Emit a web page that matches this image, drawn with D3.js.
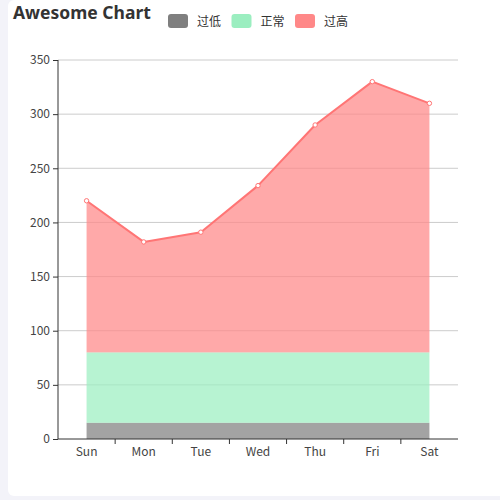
<!DOCTYPE html>
<html>
<head>
<meta charset="utf-8">
<script src="https://d3js.org/d3.v7.min.js"></script>
<style>
  html, body { margin: 0; padding: 0; background: #f3f3f9; }
  #card {
    position: absolute; left: 8px; top: 0; width: 500px; height: 496px;
    background: #fff; border-radius: 6px;
  }
  svg { position: absolute; left: 0; top: 0; }
  text { font-family: "Noto Sans CJK SC", "Noto Sans", sans-serif; }
</style>
</head>
<body>
<div id="card"></div>
<svg id="chart" width="500" height="500"></svg>
<script>
// Chart data
const days = ["Sun", "Mon", "Tue", "Wed", "Thu", "Fri", "Sat"];
const values = [220, 182, 191, 234, 290, 330, 310];
const yTicks = [0, 50, 100, 150, 200, 250, 300, 350];
// visualMap pieces
const pieceNames = ["过低", "正常", "过高"];
const pieceBounds = [[0, 15], [15, 80], [80, 350]];
const pieceColors = ["#7f7f7f", "#9beec0", "#ff8888"];

const margin = { left: 58, right: 42, top: 60, bottom: 61 };
const width = 500, height = 500;

const svg = d3.select("#chart");

const x = d3.scaleBand()
  .domain(days)
  .range([margin.left, width - margin.right]);

const y = d3.scaleLinear()
  .domain([0, 350])
  .range([height - margin.bottom, margin.top]);

const cx = d => x(d) + x.bandwidth() / 2;

// Grid lines
svg.append("g")
  .selectAll("line")
  .data(yTicks.slice(1))
  .enter()
  .append("line")
  .attr("x1", margin.left)
  .attr("x2", width - margin.right)
  .attr("y1", d => y(d))
  .attr("y2", d => y(d))
  .style("stroke", "#ccc")
  .style("stroke-width", "1px");

// Area clipped, coloured by pieces
const area = d3.area()
  .x((d, i) => cx(days[i]))
  .y0(y(0))
  .y1(d => y(d));

svg.append("clipPath")
  .attr("id", "areaClip")
  .append("path")
  .attr("d", area(values));

const areaG = svg.append("g").attr("clip-path", "url(#areaClip)");
areaG.selectAll("rect")
  .data(pieceBounds)
  .enter()
  .append("rect")
  .attr("x", margin.left)
  .attr("width", width - margin.left - margin.right)
  .attr("y", d => y(d[1]))
  .attr("height", d => y(d[0]) - y(d[1]))
  .style("fill", (d, i) => pieceColors[i])
  .style("fill-opacity", 0.72);

// Line
const line = d3.line()
  .x((d, i) => cx(days[i]))
  .y(d => y(d));

svg.append("path")
  .attr("d", line(values))
  .style("fill", "none")
  .style("stroke", "#ff7575")
  .style("stroke-width", "2px")
  .style("stroke-linejoin", "round");

svg.append("g")
  .selectAll("circle")
  .data(values)
  .enter()
  .append("circle")
  .attr("cx", (d, i) => cx(days[i]))
  .attr("cy", d => y(d))
  .attr("r", 2.2)
  .style("fill", "#fff")
  .style("stroke", "#ff7575")
  .style("stroke-width", "1px");

// Axes
const yAxis = d3.axisLeft(y).tickValues(yTicks).tickSize(5).tickPadding(3);
const yG = svg.append("g")
  .attr("transform", `translate(${margin.left},0)`)
  .call(yAxis);
yG.select(".domain").attr("d", `M0,${y(350)}V${y(0)}`).style("stroke", "#333");
yG.selectAll(".tick line").style("stroke", "#333");
yG.selectAll("text").style("font-size", "12px").style("fill", "#444")
  .style("font-family", "'Noto Sans CJK SC', sans-serif");

const xG = svg.append("g")
  .attr("transform", `translate(0,${y(0)})`)
  .call(d3.axisBottom(x).tickSize(0).tickPadding(8));
xG.select(".domain").attr("d", `M${margin.left},0H${width - margin.right}`).style("stroke", "#333");
xG.selectAll("text").style("font-size", "12px").style("fill", "#444")
  .style("font-family", "'Noto Sans CJK SC', sans-serif");

// boundary ticks between categories
xG.append("g")
  .selectAll("line")
  .data(days.slice(1))
  .enter()
  .append("line")
  .attr("x1", d => x(d))
  .attr("x2", d => x(d))
  .attr("y1", 0)
  .attr("y2", 5)
  .style("stroke", "#333");

// Title
svg.append("text")
  .attr("x", 13)
  .attr("y", 19)
  .text("Awesome Chart")
  .style("font-family", "'Noto Sans', sans-serif")
  .style("font-size", "17.5px")
  .style("font-weight", "bold")
  .style("fill", "#333");

// Legend
const legend = svg.append("g").attr("transform", "translate(168,14)");
const item = legend.selectAll("g")
  .data(pieceNames)
  .enter()
  .append("g")
  .attr("transform", (d, i) => `translate(${i * 63.5},0)`);

item.append("rect")
  .attr("width", 20)
  .attr("height", 14)
  .attr("rx", 3)
  .style("fill", (d, i) => pieceColors[i]);

item.append("text")
  .attr("x", 29)
  .attr("y", 11.5)
  .text(d => d)
  .style("font-size", "12px")
  .style("fill", "#333");
</script>
</body>
</html>
